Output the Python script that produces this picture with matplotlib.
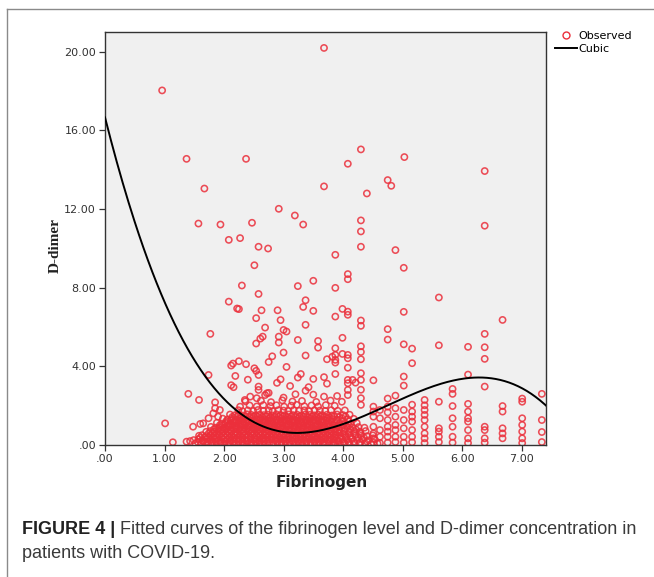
import matplotlib.pyplot as plt
from matplotlib.lines import Line2D
import numpy as np

# Observed points (fibrinogen, D-dimer)
high_pts = [
    (3.68, 20.19), (0.96, 18.03), (1.37, 14.55), (2.37, 14.55), (4.30, 15.03), (4.08, 14.30),
    (5.03, 14.64), (6.38, 13.93), (1.67, 13.04), (3.68, 13.15), (4.75, 13.47), (4.81, 13.18),
    (4.40, 12.79), (2.92, 12.01), (3.19, 11.67), (3.33, 11.21), (1.57, 11.26), (1.94, 11.21),
    (2.47, 11.30), (4.30, 11.42), (4.30, 10.86), (6.38, 11.15), (2.08, 10.43), (2.27, 10.52),
    (2.58, 10.08), (2.74, 9.99), (4.30, 10.08), (4.88, 9.91), (3.87, 9.67),
]

mid_pts = [
    (2.51, 9.14), (5.02, 9.01), (4.08, 8.69), (4.08, 8.43), (3.50, 8.35), (2.30, 8.11),
    (3.24, 8.08), (3.87, 7.99), (2.58, 7.68), (5.61, 7.50), (2.08, 7.29), (3.37, 7.36),
    (2.22, 6.94), (2.25, 6.91), (3.33, 7.02), (2.63, 6.85), (2.90, 6.85), (3.50, 6.82),
    (3.99, 6.92), (4.08, 6.78), (4.08, 6.62), (5.02, 6.77), (3.87, 6.53), (2.54, 6.45),
    (2.95, 6.35), (4.30, 6.33), (4.30, 6.06), (6.68, 6.36), (3.37, 6.11), (2.69, 5.97),
    (3.00, 5.85), (3.05, 5.77), (4.75, 5.89), (1.77, 5.65), (6.38, 5.65), (2.65, 5.51),
    (2.61, 5.41), (2.92, 5.51), (2.92, 5.21), (3.24, 5.34), (3.99, 5.45), (4.75, 5.36),
    (3.58, 5.29), (3.58, 4.95), (2.54, 5.16), (5.02, 5.12), (5.61, 5.07), (6.10, 4.99),
    (6.38, 4.97), (5.16, 4.90), (4.30, 5.02), (4.30, 4.73), (3.87, 4.92), (3.87, 4.58),
    (3.87, 4.33), (3.87, 4.19), (3.00, 4.70), (3.37, 4.55), (2.81, 4.51), (2.75, 4.22),
    (4.08, 4.58), (4.08, 4.41), (4.08, 3.93), (4.30, 4.36), (6.38, 4.38), (3.73, 4.36),
    (3.82, 4.49), (3.99, 4.63), (2.25, 4.26), (2.15, 4.14), (2.12, 4.04), (2.37, 4.11),
    (5.16, 4.16), (2.51, 3.90), (2.54, 3.77), (2.58, 3.56), (3.05, 3.97), (1.74, 3.56),
    (2.19, 3.51), (4.30, 3.65), (3.87, 3.61), (3.29, 3.61), (3.24, 3.43), (6.10, 3.58),
    (5.02, 3.48), (5.02, 3.02), (3.50, 3.36), (3.68, 3.45), (2.40, 3.32), (2.95, 3.34),
    (2.89, 3.16), (4.08, 3.31), (4.08, 3.14), (4.16, 3.31), (4.21, 3.17), (4.51, 3.29),
    (3.73, 3.12), (2.12, 3.04), (2.16, 2.94), (2.58, 2.97), (2.58, 2.80), (3.11, 3.00),
    (3.42, 2.94), (3.37, 2.76), (6.38, 2.97), (5.84, 2.85), (5.84, 2.60), (4.30, 2.81),
    (4.08, 2.80), (4.08, 2.54), (4.88, 2.51), (4.75, 2.36), (1.40, 2.60), (1.58, 2.29),
    (7.34, 2.60), (7.01, 2.36), (7.01, 2.20), (5.61, 2.20), (5.37, 2.29), (5.37, 2.02),
    (6.10, 2.09), (5.16, 2.05), (6.68, 1.98), (5.84, 1.98), (1.85, 2.17), (3.20, 2.58),
    (3.00, 2.41), (2.75, 2.65), (2.69, 2.54), (2.44, 2.46), (3.68, 2.46), (3.90, 2.49),
    (3.50, 2.56), (4.30, 3.31), (4.30, 2.38), (4.30, 2.04), (2.35, 2.29), (2.55, 2.38),
    (2.72, 2.63),
]

left_pts = [
    (1.01, 1.10), (1.14, 0.14), (1.37, 0.17), (1.43, 0.20), (1.48, 0.93), (1.60, 1.07),
    (1.65, 1.10), (1.74, 1.36), (1.82, 1.61), (1.85, 1.87), (1.93, 1.78), (1.90, 1.44),
    (2.27, 1.95),
]

right_cols = [
    (4.51, 1.95), (4.51, 1.70), (4.51, 1.44), (4.51, 0.93), (4.51, 0.59), (4.51, 0.34), (4.51, 0.12),
    (4.62, 1.78), (4.62, 1.36), (4.62, 0.76), (4.62, 0.42), (4.62, 0.10),
    (4.75, 1.95), (4.75, 1.66), (4.75, 1.27), (4.75, 0.93), (4.75, 0.68), (4.75, 0.42), (4.75, 0.12),
    (4.88, 1.87), (4.88, 1.44), (4.88, 1.02), (4.88, 0.76), (4.88, 0.42), (4.88, 0.15),
    (5.02, 1.78), (5.02, 1.27), (5.02, 0.85), (5.02, 0.42), (5.02, 0.12),
    (5.16, 1.70), (5.16, 1.44), (5.16, 1.19), (5.16, 0.76), (5.16, 0.42), (5.16, 0.14),
    (5.37, 1.78), (5.37, 1.53), (5.37, 1.27), (5.37, 0.93), (5.37, 0.59), (5.37, 0.34), (5.37, 0.10),
    (5.61, 0.85), (5.61, 0.68), (5.61, 0.42), (5.61, 0.15),
    (5.84, 1.36), (5.84, 0.93), (5.84, 0.42), (5.84, 0.12),
    (6.10, 1.70), (6.10, 1.36), (6.10, 1.19), (6.10, 0.76), (6.10, 0.34), (6.10, 0.10),
    (6.38, 0.93), (6.38, 0.76), (6.38, 0.34), (6.38, 0.12),
    (6.68, 1.70), (6.68, 0.85), (6.68, 0.59), (6.68, 0.34),
    (7.01, 1.36), (7.01, 1.02), (7.01, 0.68), (7.01, 0.34), (7.01, 0.10),
    (7.34, 1.27), (7.34, 0.66), (7.34, 0.15),
]

# the solid mass of low D-dimer values, one block per band
dense_core = [
    (1.52, 0.08), (1.61, 0.05), (1.68, 0.10), (1.74, 0.04), (1.81, 0.07), (1.88, 0.05), (1.95, 0.09),
    (2.01, 0.04), (2.08, 0.06), (2.15, 0.10), (2.21, 0.05), (2.28, 0.08), (2.35, 0.04), (2.42, 0.07),
    (2.49, 0.05), (2.55, 0.10), (2.62, 0.06), (2.69, 0.04), (2.76, 0.08), (2.83, 0.05), (2.90, 0.07),
    (2.97, 0.04), (3.04, 0.09), (3.11, 0.05), (3.18, 0.06), (3.25, 0.10), (3.31, 0.04), (3.38, 0.07),
    (3.45, 0.05), (3.52, 0.09), (3.59, 0.04), (3.66, 0.06), (3.73, 0.08), (3.80, 0.05), (3.87, 0.07),
    (3.95, 0.04), (4.03, 0.08), (4.11, 0.05), (4.19, 0.07), (4.28, 0.04), (4.37, 0.09), (4.47, 0.05),
    (4.58, 0.07),

    (1.56, 0.15), (1.65, 0.18), (1.72, 0.16), (1.79, 0.14), (1.86, 0.18), (1.94, 0.15), (2.02, 0.17),
    (2.09, 0.14), (2.16, 0.18), (2.24, 0.16), (2.31, 0.15), (2.39, 0.18), (2.46, 0.14), (2.53, 0.17),
    (2.60, 0.15), (2.67, 0.18), (2.74, 0.16), (2.82, 0.14), (2.89, 0.17), (2.96, 0.15), (3.03, 0.18),
    (3.10, 0.14), (3.17, 0.16), (3.24, 0.18), (3.31, 0.15), (3.39, 0.17), (3.46, 0.14), (3.53, 0.18),
    (3.60, 0.16), (3.68, 0.15), (3.76, 0.17), (3.84, 0.14), (3.92, 0.18), (4.00, 0.16), (4.09, 0.15),
    (4.18, 0.17), (4.29, 0.14), (4.40, 0.18),

    (1.49, 0.25), (1.57, 0.29), (1.64, 0.24), (1.71, 0.30), (1.78, 0.26), (1.84, 0.28), (1.91, 0.23),
    (1.98, 0.29), (2.05, 0.27), (2.11, 0.24), (2.18, 0.30), (2.25, 0.26), (2.31, 0.28), (2.38, 0.23),
    (2.45, 0.29), (2.52, 0.27), (2.59, 0.24), (2.65, 0.30), (2.72, 0.26), (2.79, 0.28), (2.86, 0.24),
    (2.93, 0.30), (3.00, 0.26), (3.07, 0.28), (3.14, 0.23), (3.21, 0.29), (3.28, 0.27), (3.35, 0.24),
    (3.42, 0.30), (3.49, 0.26), (3.56, 0.28), (3.63, 0.24), (3.70, 0.30), (3.77, 0.26), (3.84, 0.28),
    (3.91, 0.24), (3.99, 0.29), (4.07, 0.26), (4.15, 0.30), (4.24, 0.25), (4.33, 0.28), (4.43, 0.24),
    (4.53, 0.29),

    (1.60, 0.37), (1.68, 0.39), (1.75, 0.36), (1.82, 0.38), (1.89, 0.35), (1.96, 0.39), (2.03, 0.37),
    (2.10, 0.36), (2.17, 0.39), (2.24, 0.35), (2.31, 0.38), (2.38, 0.37), (2.45, 0.39), (2.52, 0.35),
    (2.59, 0.38), (2.66, 0.36), (2.73, 0.39), (2.80, 0.37), (2.87, 0.35), (2.94, 0.38), (3.01, 0.36),
    (3.08, 0.39), (3.15, 0.37), (3.22, 0.35), (3.29, 0.38), (3.36, 0.36), (3.43, 0.39), (3.50, 0.37),
    (3.57, 0.35), (3.64, 0.38), (3.71, 0.36), (3.79, 0.39), (3.87, 0.37), (3.95, 0.35), (4.04, 0.38),
    (4.14, 0.36), (4.25, 0.39), (4.35, 0.37),

    (1.58, 0.47), (1.63, 0.50), (1.70, 0.45), (1.77, 0.49), (1.85, 0.46), (1.92, 0.51), (1.99, 0.47),
    (2.06, 0.49), (2.13, 0.45), (2.20, 0.50), (2.27, 0.47), (2.34, 0.49), (2.41, 0.45), (2.48, 0.51),
    (2.55, 0.46), (2.62, 0.49), (2.69, 0.47), (2.76, 0.50), (2.83, 0.45), (2.90, 0.49), (2.97, 0.47),
    (3.04, 0.51), (3.11, 0.46), (3.18, 0.49), (3.25, 0.45), (3.32, 0.50), (3.39, 0.47), (3.46, 0.49),
    (3.53, 0.45), (3.60, 0.51), (3.67, 0.46), (3.74, 0.49), (3.81, 0.47), (3.88, 0.50), (3.96, 0.45),
    (4.04, 0.49), (4.12, 0.46), (4.21, 0.50), (4.30, 0.47), (4.40, 0.45), (4.50, 0.49),

    (1.74, 0.58), (1.81, 0.60), (1.88, 0.57), (1.95, 0.59), (2.02, 0.56), (2.09, 0.60), (2.16, 0.58),
    (2.23, 0.57), (2.30, 0.60), (2.37, 0.56), (2.44, 0.59), (2.51, 0.58), (2.58, 0.60), (2.65, 0.56),
    (2.72, 0.59), (2.79, 0.57), (2.86, 0.60), (2.93, 0.58), (3.00, 0.56), (3.07, 0.59), (3.14, 0.57),
    (3.21, 0.60), (3.28, 0.58), (3.35, 0.56), (3.42, 0.59), (3.49, 0.57), (3.56, 0.60), (3.63, 0.58),
    (3.70, 0.56), (3.77, 0.59), (3.84, 0.57), (3.92, 0.60), (4.00, 0.58), (4.09, 0.56), (4.19, 0.59),
    (4.30, 0.57),

    (1.70, 0.67), (1.77, 0.71), (1.84, 0.68), (1.91, 0.72), (1.98, 0.66), (2.05, 0.70), (2.12, 0.69),
    (2.19, 0.67), (2.26, 0.72), (2.33, 0.68), (2.40, 0.70), (2.47, 0.66), (2.54, 0.71), (2.61, 0.69),
    (2.68, 0.67), (2.75, 0.72), (2.82, 0.68), (2.89, 0.70), (2.96, 0.66), (3.03, 0.71), (3.10, 0.69),
    (3.17, 0.67), (3.24, 0.72), (3.31, 0.68), (3.38, 0.70), (3.45, 0.66), (3.52, 0.71), (3.59, 0.69),
    (3.66, 0.67), (3.73, 0.72), (3.80, 0.68), (3.87, 0.70), (3.94, 0.66), (4.02, 0.71), (4.10, 0.68),
    (4.19, 0.70), (4.28, 0.67), (4.38, 0.71),

    (1.83, 0.80), (1.90, 0.82), (1.97, 0.79), (2.04, 0.81), (2.11, 0.78), (2.18, 0.82), (2.25, 0.80),
    (2.32, 0.79), (2.39, 0.82), (2.46, 0.78), (2.53, 0.81), (2.60, 0.80), (2.67, 0.82), (2.74, 0.78),
    (2.81, 0.81), (2.88, 0.79), (2.95, 0.82), (3.02, 0.80), (3.09, 0.78), (3.16, 0.81), (3.23, 0.79),
    (3.30, 0.82), (3.37, 0.80), (3.44, 0.78), (3.51, 0.81), (3.58, 0.79), (3.65, 0.82), (3.72, 0.80),
    (3.79, 0.78), (3.86, 0.81), (3.94, 0.79), (4.03, 0.82), (4.12, 0.80), (4.22, 0.78),

    (1.78, 0.92), (1.86, 0.88), (1.93, 0.91), (2.00, 0.87), (2.07, 0.93), (2.14, 0.90), (2.21, 0.88),
    (2.28, 0.92), (2.35, 0.89), (2.42, 0.91), (2.49, 0.87), (2.56, 0.93), (2.63, 0.90), (2.70, 0.88),
    (2.77, 0.92), (2.84, 0.89), (2.91, 0.91), (2.98, 0.87), (3.05, 0.93), (3.12, 0.90), (3.19, 0.88),
    (3.26, 0.92), (3.33, 0.89), (3.40, 0.91), (3.47, 0.87), (3.54, 0.93), (3.61, 0.90), (3.68, 0.88),
    (3.75, 0.92), (3.82, 0.89), (3.90, 0.91), (3.98, 0.87), (4.07, 0.92), (4.16, 0.89), (4.26, 0.91),
    (4.36, 0.88),

    (1.93, 1.01), (2.00, 1.03), (2.07, 1.00), (2.14, 1.02), (2.21, 0.99), (2.28, 1.03), (2.35, 1.01),
    (2.42, 1.00), (2.49, 1.03), (2.56, 0.99), (2.63, 1.02), (2.70, 1.01), (2.77, 1.03), (2.84, 0.99),
    (2.91, 1.02), (2.98, 1.00), (3.05, 1.03), (3.12, 1.01), (3.19, 0.99), (3.26, 1.02), (3.33, 1.00),
    (3.40, 1.03), (3.47, 1.01), (3.54, 0.99), (3.61, 1.02), (3.68, 1.00), (3.75, 1.03), (3.83, 1.01),
    (3.91, 0.99), (4.00, 1.02), (4.10, 1.00),

    (1.88, 1.13), (1.96, 1.09), (2.03, 1.12), (2.10, 1.08), (2.17, 1.14), (2.24, 1.11), (2.31, 1.09),
    (2.38, 1.13), (2.45, 1.10), (2.52, 1.12), (2.59, 1.08), (2.66, 1.14), (2.73, 1.11), (2.80, 1.09),
    (2.87, 1.13), (2.94, 1.10), (3.01, 1.12), (3.08, 1.08), (3.15, 1.14), (3.22, 1.11), (3.29, 1.09),
    (3.36, 1.13), (3.43, 1.10), (3.50, 1.12), (3.57, 1.08), (3.64, 1.14), (3.71, 1.11), (3.78, 1.09),
    (3.86, 1.13), (3.94, 1.10), (4.03, 1.12), (4.13, 1.08), (4.23, 1.12),

    (2.04, 1.22), (2.11, 1.24), (2.18, 1.21), (2.25, 1.23), (2.32, 1.20), (2.39, 1.24), (2.46, 1.22),
    (2.53, 1.21), (2.60, 1.24), (2.67, 1.20), (2.74, 1.23), (2.81, 1.22), (2.88, 1.24), (2.95, 1.20),
    (3.02, 1.23), (3.09, 1.21), (3.16, 1.24), (3.23, 1.22), (3.30, 1.20), (3.37, 1.23), (3.44, 1.21),
    (3.51, 1.24), (3.58, 1.22), (3.65, 1.20), (3.72, 1.23), (3.80, 1.21), (3.89, 1.24), (3.99, 1.22),
    (4.10, 1.20),

    (1.98, 1.34), (2.06, 1.30), (2.13, 1.33), (2.20, 1.29), (2.27, 1.35), (2.34, 1.32), (2.41, 1.30),
    (2.48, 1.34), (2.55, 1.31), (2.62, 1.33), (2.69, 1.29), (2.76, 1.35), (2.83, 1.32), (2.90, 1.30),
    (2.97, 1.34), (3.04, 1.31), (3.11, 1.33), (3.18, 1.29), (3.25, 1.35), (3.32, 1.32), (3.39, 1.30),
    (3.46, 1.34), (3.53, 1.31), (3.60, 1.33), (3.67, 1.29), (3.74, 1.35), (3.82, 1.32), (3.90, 1.30),
    (3.99, 1.34), (4.08, 1.31), (4.18, 1.33),

    (2.14, 1.43), (2.22, 1.45), (2.29, 1.42), (2.36, 1.44), (2.43, 1.41), (2.50, 1.45), (2.57, 1.43),
    (2.64, 1.42), (2.71, 1.45), (2.78, 1.41), (2.85, 1.44), (2.92, 1.43), (2.99, 1.45), (3.06, 1.41),
    (3.13, 1.44), (3.20, 1.42), (3.27, 1.45), (3.34, 1.43), (3.41, 1.41), (3.48, 1.44), (3.55, 1.42),
    (3.62, 1.45), (3.69, 1.43), (3.77, 1.41), (3.85, 1.44), (3.94, 1.42), (4.04, 1.45),

    (2.10, 1.55), (2.18, 1.51), (2.25, 1.54), (2.32, 1.50), (2.39, 1.56), (2.46, 1.53), (2.53, 1.51),
    (2.60, 1.55), (2.67, 1.52), (2.74, 1.54), (2.81, 1.50), (2.88, 1.56), (2.95, 1.53), (3.02, 1.51),
    (3.09, 1.55), (3.16, 1.52), (3.23, 1.54), (3.30, 1.50), (3.37, 1.56), (3.44, 1.53), (3.51, 1.51),
    (3.58, 1.55), (3.65, 1.52), (3.73, 1.54), (3.81, 1.50), (3.90, 1.55), (4.00, 1.52), (4.11, 1.54),

    (2.24, 1.77), (2.31, 1.72), (2.40, 1.76), (2.49, 1.73), (2.57, 1.78), (2.66, 1.74), (2.75, 1.76),
    (2.82, 1.72), (2.91, 1.77), (3.00, 1.75), (3.08, 1.73), (3.17, 1.78), (3.26, 1.74), (3.35, 1.76),
    (3.43, 1.72), (3.52, 1.77), (3.61, 1.75), (3.70, 1.73), (3.80, 1.77), (3.91, 1.74), (4.03, 1.76),

    (2.43, 2.01), (2.55, 1.96), (2.66, 2.03), (2.78, 1.98), (2.88, 2.02), (3.01, 1.95), (3.13, 2.00),
    (3.22, 2.04), (3.35, 1.97), (3.47, 2.01), (3.58, 1.96), (3.71, 2.03), (3.86, 1.99),

    (2.36, 2.22), (2.62, 2.25), (2.79, 2.18), (2.98, 2.27), (3.15, 2.21), (3.31, 2.24), (3.55, 2.19),
    (3.79, 2.26), (3.98, 2.20),
]

# points read along the black "Cubic" line; the start point is held more firmly
curve_fib = [0.00, 0.17, 0.47, 0.70, 0.95, 1.31, 1.88, 2.44, 3.00, 3.28, 4.00, 4.96, 6.10, 7.36]
curve_dd = [16.5, 15.35, 12.0, 9.92, 7.4, 5.0, 2.65, 1.1, 0.66, 0.6, 0.92, 2.4, 3.66, 2.0]
curve_w = [4, 2, 1, 1, 1, 1, 1, 1, 1, 1, 1, 1, 1, 1]

x_ticks = [0, 1, 2, 3, 4, 5, 6, 7]
x_labels = ['.00', '1.00', '2.00', '3.00', '4.00', '5.00', '6.00', '7.00']
y_ticks = [0, 4, 8, 12, 16, 20]
y_labels = ['.00', '4.00', '8.00', '12.00', '16.00', '20.00']

pts = np.array(high_pts + mid_pts + left_pts + right_cols + dense_core)
fib, dd = pts[:, 0], pts[:, 1]

W, H = 654, 577
fig = plt.figure(figsize=(W / 100, H / 100), dpi=100)
ax = fig.add_axes([105 / W, 1 - 445 / H, 441 / W, 413 / H])
ax.set_facecolor('#f0f0f0')

red = '#eb2f3b'
ax.scatter(fib, dd, s=20, facecolors='none', edgecolors=red, linewidths=1.15,
           alpha=0.85, zorder=2)

coef = np.polyfit(curve_fib, curve_dd, 3, w=curve_w)
xs = np.linspace(0, 7.41, 300)
ax.plot(xs, np.polyval(coef, xs), color='black', lw=1.4, zorder=3)

ax.set_xlim(0, 7.41)
ax.set_ylim(0, 21.0)
ax.set_xticks(x_ticks)
ax.set_xticklabels(x_labels)
ax.set_yticks(y_ticks)
ax.set_yticklabels(y_labels)
ax.tick_params(direction='out', length=4.5, width=0.9, color='#333333',
               labelsize=8, labelcolor='#333333', pad=2)
for sp in ax.spines.values():
    sp.set_color('#333333')
    sp.set_linewidth(1.0)

ax.set_xlabel('Fibrinogen', fontsize=11, fontweight='bold', color='#222222')
ax.xaxis.set_label_coords(0.492, -0.072)
ax.set_ylabel('D-dimer', fontsize=11, fontweight='bold', family='Liberation Serif',
              color='#222222')
ax.yaxis.set_label_coords(-0.097, 0.484)

handles = [
    Line2D([], [], ls='none', marker='o', ms=5, mfc='none', mec=red, mew=1.0),
    Line2D([], [], color='black', lw=1.4),
]
fig.legend(handles, ['Observed', 'Cubic'], loc='upper left',
           bbox_to_anchor=(555 / W, 1 - 31 / H), frameon=False, fontsize=8,
           handlelength=2.0, handletextpad=0.1, labelspacing=0.3,
           borderpad=0, borderaxespad=0)

# outer frame of the figure panel
fig.add_artist(Line2D([7 / W, 7 / W], [0, 1 - 9 / H], color='#8a8a8a', lw=1.0))
fig.add_artist(Line2D([7 / W, 1], [1 - 9 / H, 1 - 9 / H], color='#8a8a8a', lw=1.0))

# caption
cap_font = ['Liberation Sans']
r = fig.canvas.get_renderer()
t1 = fig.text(22 / W, 1 - 530 / H, 'FIGURE 4 |', fontsize=13, fontweight='bold',
              family=cap_font, va='center', color='#222222')
bb = t1.get_window_extent(r)
fig.text((bb.x1 + 5) / W, 1 - 530 / H,
         'Fitted curves of the fibrinogen level and D-dimer concentration in',
         fontsize=13, family=cap_font, va='center', color='#3a3a3a')
fig.text(22 / W, 1 - 553 / H, 'patients with COVID-19.', fontsize=13,
         family=cap_font, va='center', color='#3a3a3a')

fig.savefig('out.png', dpi=100)
